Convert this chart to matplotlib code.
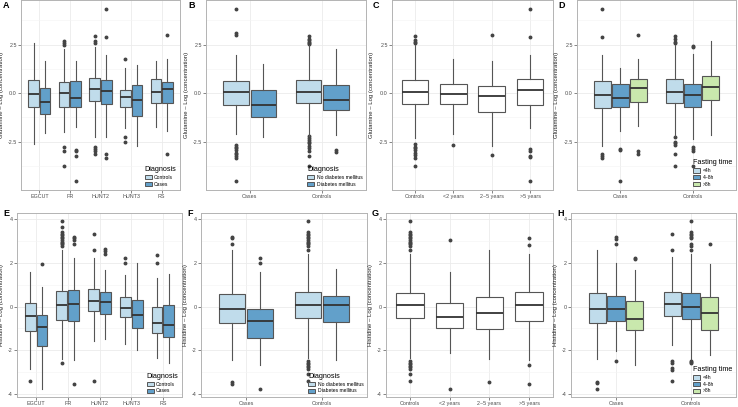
import matplotlib
matplotlib.use("Agg")
import matplotlib.pyplot as plt
from matplotlib.patches import Patch

plt.rcParams['font.family'] = ['Liberation Sans', 'DejaVu Sans']

# ---- data ----
# box stats per box: [whislo, q1, med, q3, whishi], order = category x hue
sites = ["EGCUT", "FR", "HUNT2", "HUNT3", "RS"]
diag = ["Controls", "Cases"]
casectl = ["Cases", "Controls"]
dm = ["No diabetes mellitus", "Diabetes mellitus"]
duration = ["Controls", "<2 years", "2~5 years", ">5 years"]
fasting = ["<4h", "4~8h", ">8h"]

# A: Glutamine by site
glu_site_stats = [[-2.62, -0.70, -0.07, 0.65, 2.60], [-2.07, -1.10, -0.48, 0.26, 1.64],
                  [-2.00, -0.70, 0.02, 0.58, 2.26], [-1.75, -0.74, -0.24, 0.60, 1.64],
                  [-2.29, -0.39, 0.19, 0.77, 2.38], [-2.29, -0.58, 0.09, 0.68, 1.95],
                  [-1.78, -0.70, -0.22, 0.15, 1.30], [-2.71, -1.20, -0.38, 0.39, 1.47],
                  [-1.73, -0.50, 0.07, 0.72, 1.66], [-1.95, -0.53, 0.22, 0.55, 1.73]]
glu_site_out = [[], [], [2.69, 2.60, 2.50, -2.79, -2.98, -3.75], [-2.93, -3.01, -3.27, -4.55],
                [2.93, 2.69, 2.60, -2.76, -2.89, -3.01, -3.13], [4.33, 2.89, -3.13, -3.34],
                [1.73, -2.26, -2.52], [], [], [3.01, -3.13]]

# B: Glutamine by case/control and diabetes
glu_dm_stats = [[-2.11, -0.62, 0.07, 0.60, 1.95], [-2.29, -1.22, -0.62, 0.17, 1.51],
                [-2.21, -0.50, 0.07, 0.65, 2.48], [-2.19, -0.89, -0.38, 0.43, 2.29]]
glu_dm_out = [[4.32, 3.07, 2.98, -2.67, -2.76, -2.86, -2.96, -3.07, -3.15, -3.27, -3.37, -4.55],
              [],
              [2.93, 2.81, 2.72, 2.65, 2.59, 2.52, -2.24, -2.33, -2.41, -2.50, -2.59, -2.72, -2.84, -3.01, -3.27, -3.77],
              [-2.93, -3.03]]

# C: Glutamine by time to diagnosis
glu_dur_stats = [[-2.31, -0.55, 0.03, 0.65, 2.48], [-2.11, -0.58, -0.05, 0.45, 1.75],
                 [-2.71, -0.99, -0.17, 0.36, 1.63], [-1.82, -0.63, 0.14, 0.70, 1.95]]
glu_dur_out = [[2.93, 2.72, 2.65, 2.59, -2.65, -2.76, -2.86, -2.96, -3.07, -3.17, -3.36, -3.75],
               [-2.67], [3.01, -3.17], [4.33, 2.89, -2.89, -2.98, -3.24, -3.32, -4.55]]

# D: Glutamine by fasting time
glu_fast_stats = [[-2.71, -0.79, -0.10, 0.60, 1.95], [-1.94, -0.74, -0.24, 0.45, 1.27],
                  [-1.70, -0.45, 0.24, 0.70, 1.73], [-2.20, -0.50, 0.05, 0.74, 2.50],
                  [-2.38, -0.72, -0.09, 0.45, 2.00], [-2.19, -0.36, 0.31, 0.89, 2.69]]
glu_fast_out = [[4.33, 2.88, -3.13, -3.24, -3.34], [-2.88, -2.93, -4.55], [3.01, -3.01, -3.13],
                [2.93, 2.76, 2.65, 2.59, -2.28, -2.50, -2.59, -2.69, -3.13, -3.78],
                [2.43, 2.36, -2.76, -2.90, -3.01, -3.75], []]

# E: Histidine by site
his_site_stats = [[-2.86, -1.11, -0.43, 0.16, 1.57], [-3.76, -1.81, -0.92, -0.37, 0.90],
                  [-2.39, -0.59, 0.07, 0.71, 2.58], [-2.46, -0.67, 0.13, 0.74, 2.21],
                  [-1.56, -0.19, 0.27, 0.83, 2.25], [-1.47, -0.33, 0.21, 0.68, 1.69],
                  [-1.69, -0.46, -0.04, 0.44, 1.47], [-1.97, -0.98, -0.40, 0.30, 2.00],
                  [-2.36, -1.23, -0.76, 0.00, 1.29], [-2.58, -1.39, -0.83, 0.09, 1.48]]
his_site_out = [[-3.42], [1.96],
                [3.91, 3.64, 3.42, 3.34, 3.27, 3.19, 3.13, 3.05, 2.98, 2.92, 2.86, 2.80, -2.58],
                [3.19, 3.13, 3.05, 2.86, -3.53], [3.33, 2.59, -3.42], [2.62, 2.53, 2.43],
                [2.25, 2.00], [], [2.36, 1.99], []]

# F: Histidine by case/control and diabetes
his_dm_stats = [[-2.46, -0.77, -0.12, 0.58, 2.59], [-2.68, -1.42, -0.64, -0.09, 1.59],
                [-2.37, -0.52, 0.06, 0.65, 2.39], [-2.43, -0.70, 0.07, 0.49, 1.73]]
his_dm_out = [[3.19, 3.13, 2.86, -3.45, -3.53], [2.22, 2.00, -3.76],
              [3.91, 3.42, 3.34, 3.27, 3.19, 3.13, 3.05, 2.98, 2.92, 2.86, 2.80, 2.59,
               -2.50, -2.58, -2.65, -2.72, -2.78, -2.86, -3.08, -3.42],
              []]

# G: Histidine by time to diagnosis
his_dur_stats = [[-2.36, -0.53, 0.06, 0.64, 2.39], [-2.13, -0.98, -0.49, 0.16, 1.59],
                 [-2.40, -1.04, -0.31, 0.44, 2.59], [-2.46, -0.67, 0.06, 0.65, 2.40]]
his_dur_out = [[3.91, 3.42, 3.34, 3.27, 3.19, 3.13, 3.05, 2.98, 2.92, 2.86, 2.80, 2.59,
                -2.50, -2.58, -2.65, -2.72, -2.78, -2.86, -3.08, -3.42],
               [3.07, -3.76], [-3.45], [3.16, 2.84, -2.68, -3.53]]

# H: Histidine by fasting time
his_fast_stats = [[-2.40, -0.77, -0.10, 0.62, 2.58], [-2.03, -0.67, -0.10, 0.49, 2.00],
                  [-2.68, -1.07, -0.58, 0.24, 1.67], [-1.76, -0.41, 0.12, 0.67, 2.28],
                  [-2.39, -0.58, 0.00, 0.62, 2.41], [-2.21, -1.07, -0.28, 0.43, 1.97]]
his_fast_out = [[-3.44, -3.51, -3.76], [3.17, 3.10, 2.86, -2.47], [2.22, 2.18],
                [3.33, 2.59, -2.49, -2.58, -2.80, -2.89, -3.42],
                [3.91, 3.42, 3.34, 3.27, 3.19, 3.13, 2.86, 2.80, 2.59, -2.48, -2.54, -2.60],
                [2.89]]

# ---- style ----
c_light = "#c0dceb"
c_blue = "#62a0ca"
c_green = "#c9e8ad"
edge = "#555555"
W, H = 738, 407

fig = plt.figure(figsize=(W / 100, H / 100), dpi=100)


def make_ax(left, top, right, bottom):
    # pixel box -> figure fraction
    return fig.add_axes([left / W, 1 - bottom / H, (right - left) / W, (bottom - top) / H])


def draw_panel(ax, cats, stats, outs, colors, hue_labels, ylabel, ylim, yticks, yticklabels,
               yminor, letter, legend_title=None):
    ncat = len(cats)
    nhue = len(colors)
    w = 0.75 / nhue
    bxstats = []
    pos = []
    for i in range(ncat):
        for j in range(nhue):
            s = stats[i * nhue + j]
            bxstats.append(dict(whislo=s[0], q1=s[1], med=s[2], q3=s[3], whishi=s[4],
                                fliers=outs[i * nhue + j]))
            pos.append(i + 1 - 0.375 + w * (j + 0.5))
    bp = ax.bxp(bxstats, positions=pos, widths=w * 0.92, patch_artist=True, showcaps=False,
                boxprops=dict(edgecolor=edge, linewidth=0.8),
                whiskerprops=dict(color=edge, linewidth=0.8),
                medianprops=dict(color="#333333", linewidth=1.3),
                flierprops=dict(marker="o", markersize=1.8, markerfacecolor="#444444",
                                markeredgecolor="#444444"))
    for k, b in enumerate(bp["boxes"]):
        b.set_facecolor(colors[k % nhue])
    for l in bp["boxes"] + bp["whiskers"] + bp["medians"]:
        l.set_zorder(3)

    ax.set_xlim(0.4, ncat + 0.6)
    ax.set_ylim(*ylim)
    ax.set_xticks(range(1, ncat + 1))
    ax.set_xticklabels(cats)
    ax.set_yticks(yticks)
    ax.set_yticklabels(yticklabels)
    ax.set_yticks(yminor, minor=True)
    ax.tick_params(axis="both", which="major", labelsize=3.9, length=2, width=0.5,
                   colors="#555555", labelcolor="#4d4d4d", pad=1)
    ax.tick_params(axis="y", which="minor", length=0)
    ax.grid(True, which="major", color="#ebebeb", linewidth=0.6, zorder=0)
    ax.grid(True, which="minor", axis="y", color="#f4f4f4", linewidth=0.4, zorder=0)
    ax.set_axisbelow(True)
    for sp in ax.spines.values():
        sp.set_color("#b3b3b3")
        sp.set_linewidth(0.7)

    ax.set_ylabel(ylabel, fontsize=4.3, color="#222222")
    bb = ax.get_position()
    ax.yaxis.set_label_coords((letter[1] + 1) / W, bb.y0 + bb.height / 2,
                              transform=fig.transFigure)
    fig.text(letter[1] / W, 1 - letter[2] / H, letter[0], fontsize=6.5, fontweight="bold",
             ha="left", va="center")

    if legend_title is not None:
        handles = [Patch(facecolor=c, edgecolor=edge, linewidth=0.7) for c in colors]
        leg = ax.legend(handles, hue_labels, title=legend_title, loc="lower right",
                        fontsize=3.6, title_fontsize=5.2, frameon=False, handlelength=1.4,
                        handleheight=1.0, labelspacing=0.35, borderaxespad=0.3,
                        handletextpad=0.5)
        leg._legend_box.align = "left"
        leg.set_zorder(5)


glu_lab = "Glutamine \u2013 Log (concentration)"
his_lab = "Histidine \u2013 Log (concentration)"
top_lim = (-5.0, 4.77)
bot_lim = (-4.14, 4.29)
top_ticks = [-2.5, 0.0, 2.5]
top_tl = ["-2.5", "0.0", "2.5"]
top_minor = [-3.75, -1.25, 1.25, 3.75]
bot_ticks = [-4, -2, 0, 2, 4]
bot_tl = ["-4", "-2", "0", "2", "4"]
bot_minor = [-3, -1, 1, 3]

# top row: glutamine
axA = make_ax(21, 0.5, 180, 190)
draw_panel(axA, sites, glu_site_stats, glu_site_out, [c_light, c_blue], diag, glu_lab,
           top_lim, top_ticks, top_tl, top_minor, ("A", 3, 5), "Diagnosis")
axB = make_ax(206, 0.5, 366, 190)
draw_panel(axB, casectl, glu_dm_stats, glu_dm_out, [c_light, c_blue], dm, glu_lab,
           top_lim, top_ticks, top_tl, top_minor, ("B", 188, 5), "Diagnosis")
axC = make_ax(392, 0.5, 553, 190)
draw_panel(axC, duration, glu_dur_stats, glu_dur_out, ["white"], None, glu_lab,
           top_lim, top_ticks, top_tl, top_minor, ("C", 373, 5))
axD = make_ax(577, 0.5, 736, 190)
draw_panel(axD, casectl, glu_fast_stats, glu_fast_out, [c_light, c_blue, c_green], fasting,
           glu_lab, top_lim, top_ticks, top_tl, top_minor, ("D", 558, 5), "Fasting time")

# bottom row: histidine
axE = make_ax(17, 213, 182, 397)
draw_panel(axE, sites, his_site_stats, his_site_out, [c_light, c_blue], diag, his_lab,
           bot_lim, bot_ticks, bot_tl, bot_minor, ("E", 3, 213), "Diagnosis")
axF = make_ax(201, 213, 367, 397)
draw_panel(axF, casectl, his_dm_stats, his_dm_out, [c_light, c_blue], dm, his_lab,
           bot_lim, bot_ticks, bot_tl, bot_minor, ("F", 187, 213), "Diagnosis")
axG = make_ax(386, 213, 553, 397)
draw_panel(axG, duration, his_dur_stats, his_dur_out, ["white"], None, his_lab,
           bot_lim, bot_ticks, bot_tl, bot_minor, ("G", 372, 213))
axH = make_ax(571, 213, 736, 397)
draw_panel(axH, casectl, his_fast_stats, his_fast_out, [c_light, c_blue, c_green], fasting,
           his_lab, bot_lim, bot_ticks, bot_tl, bot_minor, ("H", 557, 213), "Fasting time")

fig.savefig("out.png", dpi=100)
